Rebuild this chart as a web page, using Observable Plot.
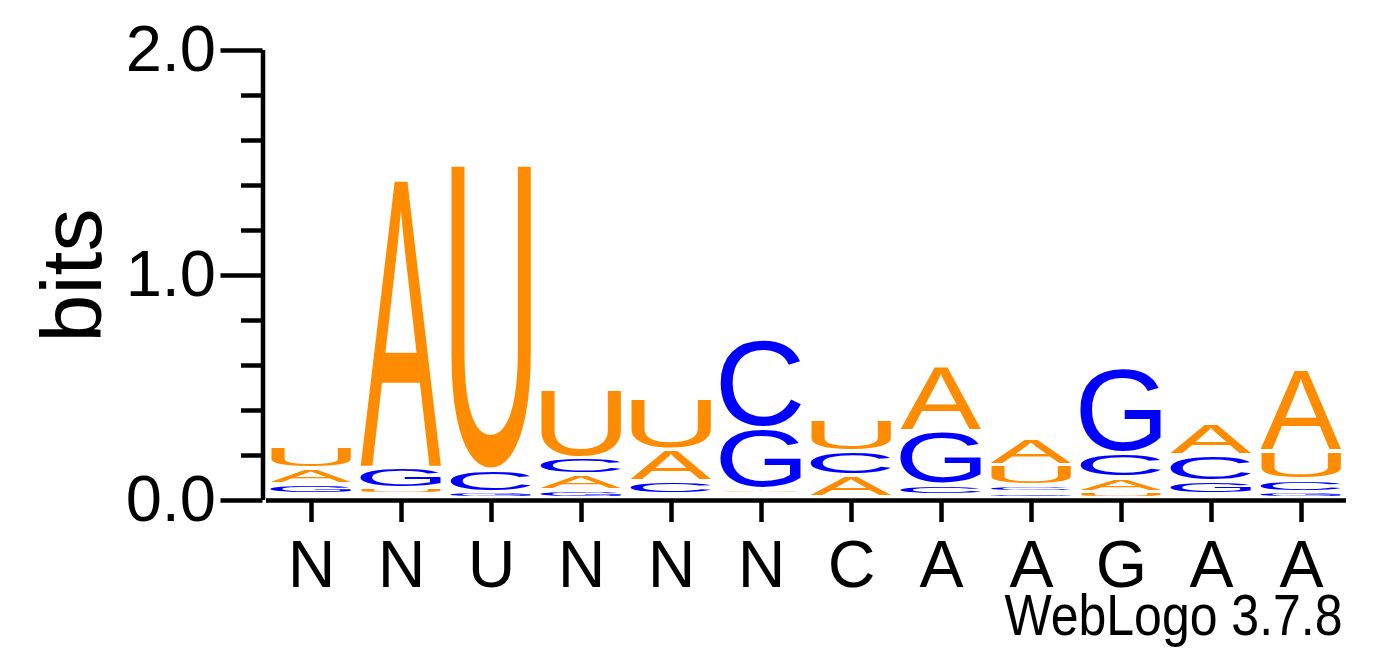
<!DOCTYPE html>
<html><head><meta charset="utf-8">
<script src="https://cdn.jsdelivr.net/npm/d3@7"></script>
<script src="https://cdn.jsdelivr.net/npm/@observablehq/plot@0.6"></script>
<style>html,body{margin:0;padding:0;background:#fff;}</style>
</head><body><div id="chart"></div>
<script>
// ---- data ----
const positions = [1, 2, 3, 4, 5, 6, 7, 8, 9, 10, 11, 12];
const xLabels = ["N", "N", "U", "N", "N", "N", "C", "A", "A", "G", "A", "A"];
const letterNames = ["A", "C", "G", "U"];
const letterColors = ["#FF8C00", "#0000FF", "#0000FF", "#FF8C00"];
// information (bits) per letter at each position
const bitsA = [0.067, 1.284, 0.000, 0.071, 0.140, 0.024, 0.096, 0.291, 0.119, 0.065, 0.142, 0.363];
const bitsC = [0.018, 0.016, 0.099, 0.073, 0.056, 0.400, 0.108, 0.046, 0.031, 0.108, 0.117, 0.055];
const bitsG = [0.046, 0.092, 0.027, 0.034, 0.018, 0.268, 0.003, 0.240, 0.025, 0.378, 0.056, 0.027];
const bitsU = [0.096, 0.026, 1.359, 0.304, 0.230, 0.016, 0.147, 0.013, 0.092, 0.027, 0.016, 0.126];
const yMajorTicks = [0, 1, 2];
const yMinorTicks = [0.2, 0.4, 0.6, 0.8, 1.2, 1.4, 1.6, 1.8];
const yTitle = "bits";
const caption = "WebLogo 3.7.8";

// ---- table: each column sorted so the smallest letter sits at the bottom ----
const series = [bitsA, bitsC, bitsG, bitsU];
const rows = positions.flatMap((p, j) =>
  letterNames.map((L, k) => ({pos: p, letter: L, bits: series[k][j]}))
    .sort((a, b) => a.bits - b.bits)
);

const FONT = "'Liberation Sans', Arial, Helvetica, sans-serif";
const measureCtx = document.createElement("canvas").getContext("2d");
const F = 100;
measureCtx.font = `${F}px 'Liberation Sans'`;

function glyphs(index, scales, values) {
  const g = d3.create("svg:g");
  const inset = 4;
  for (const i of index) {
    const left = Math.min(values.x1[i], values.x2[i]);
    const right = Math.max(values.x1[i], values.x2[i]);
    const top = Math.min(values.y1[i], values.y2[i]);
    const bottom = Math.max(values.y1[i], values.y2[i]) - inset;
    if (bottom - top < 0.6) continue;
    const ch = rows[i].letter;
    const m = measureCtx.measureText(ch);
    const L = m.actualBoundingBoxLeft, R = m.actualBoundingBoxRight;
    const A = m.actualBoundingBoxAscent, D = m.actualBoundingBoxDescent;
    const sx = (right - left) / (L + R), sy = (bottom - top) / (A + D);
    g.append("text")
      .attr("transform", `translate(${left + L * sx},${top + A * sy}) scale(${sx},${sy})`)
      .attr("font-size", F)
      .attr("font-family", FONT)
      .attr("text-anchor", "start")
      .attr("fill", values.fill[i])
      .text(ch);
  }
  return g.node();
}

function condensed(index, scales, values, dimensions, context, next) {
  const g = next(index, scales, values, dimensions, context);
  g.querySelectorAll("text").forEach(t => {
    t.setAttribute("textLength", 338);
    t.setAttribute("lengthAdjust", "spacingAndGlyphs");
  });
  return g;
}

const chart = Plot.plot({
  width: 1392, height: 667,
  marginLeft: 266, marginRight: 46, marginTop: 50, marginBottom: 167,
  x: {domain: [0.5, 12.5], label: null},
  y: {domain: [0, 2], label: null},
  color: {domain: letterNames, range: letterColors},
  style: {fontFamily: FONT, color: "black", background: "white", overflow: "visible"},
  marks: [
    Plot.rectY(rows, Plot.stackY({
      x1: d => d.pos - 0.45, x2: d => d.pos + 0.45, y: "bits", fill: "letter", render: glyphs
    })),
    Plot.axisY({ticks: yMinorTicks, tickSize: 21.5, tickFormat: () => "", strokeWidth: 4.5, dx: -3.5, label: null}),
    Plot.axisY({ticks: yMajorTicks, tickSize: 42, tickFormat: d3.format(".1f"), fontSize: 65,
      tickPadding: 5, strokeWidth: 4.5, dx: -3.5, label: null}),
    Plot.ruleX([0.5], {y1: 0, y2: 2, strokeWidth: 4.5, dx: -3.5}),
    Plot.ruleY([0], {strokeWidth: 4.5}),
    Plot.axisX({ticks: positions, tickFormat: i => xLabels[i - 1], tickSize: 22, tickPadding: 18,
      fontSize: 66, strokeWidth: 4.5, label: null}),
    Plot.text([yTitle], {frameAnchor: "left", text: d => d, rotate: -90, fontSize: 86,
      textAnchor: "middle", dx: -193.5}),
    Plot.text([caption], {frameAnchor: "bottom-right", text: d => d, fontSize: 57, textAnchor: "end",
      dy: 134.5, dx: -4, render: condensed})
  ]
});
document.getElementById("chart").append(chart);
</script>
</body></html>
